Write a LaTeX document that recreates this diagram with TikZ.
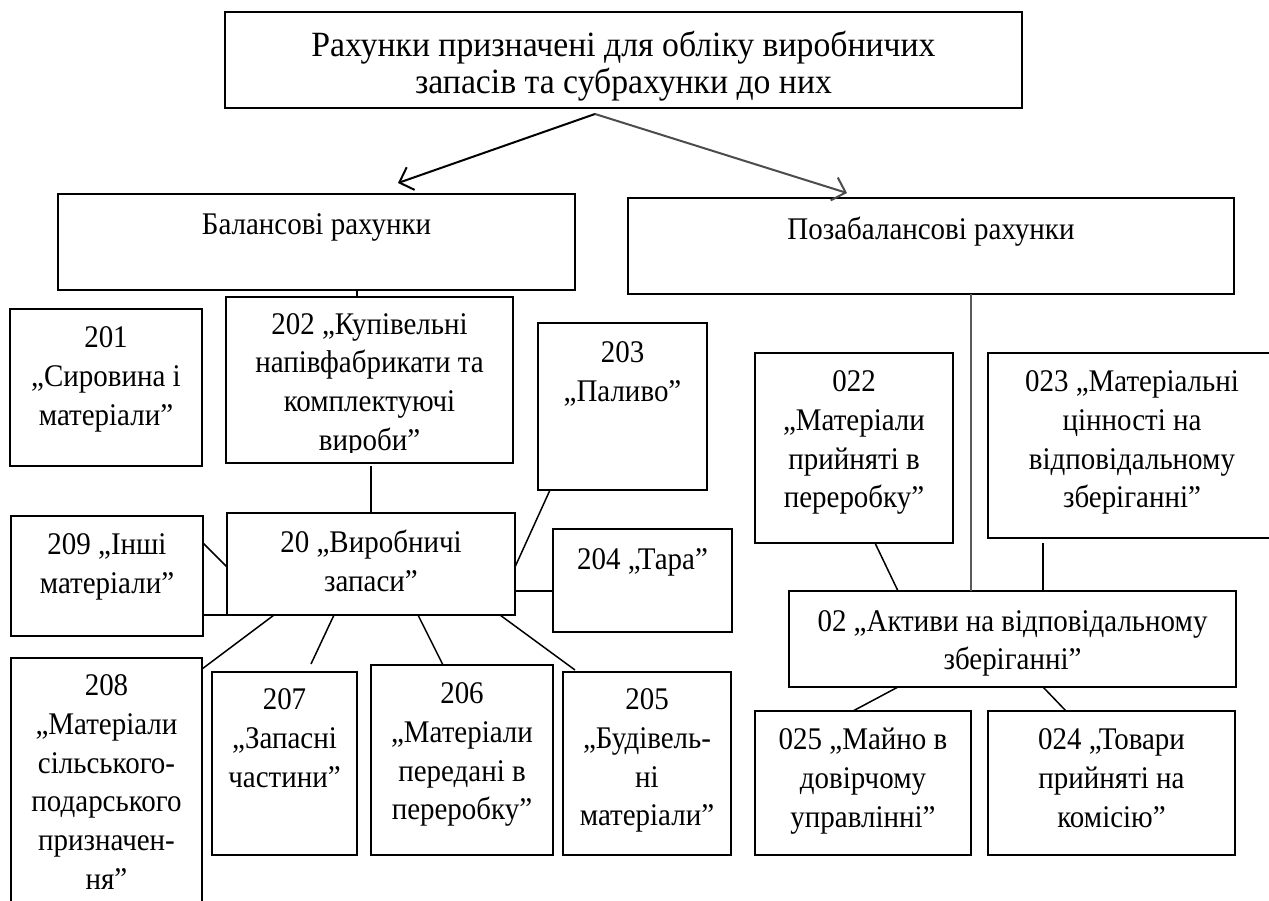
\documentclass[tikz,border=0pt]{standalone}
\usepackage{fontspec}
\setmainfont{Liberation Serif}[FakeStretch=0.92]
\newfontfamily\headfont{Liberation Serif}[FakeStretch=0.95]
\usetikzlibrary{arrows.meta}

% \bx{name}{x1}{y1}{x2}{y2}{first baseline}{text}: framed account box
\newcommand\bx[7]{%
  \node[box, minimum width={#4-#2}, minimum height={#5-#3}] (#1) at ({(#2+#4)/2},{(#3+#5)/2}) {};
  \node[txt, anchor=north] (#1t) at ({(#2+#4)/2},{#6-27.09}) {\strut #7};
}

\begin{document}
\begin{tikzpicture}[x=1pt,y=-1pt,
  box/.style={draw, rectangle, line width=1.7pt, inner sep=0pt, outer sep=0pt},
  txt/.style={inner sep=0pt, align=center, font=\fontsize{31.5}{38.7}\selectfont},
  toptxt/.style={inner sep=0pt, align=center, font=\headfont\fontsize{35.5}{35}\selectfont},
  link/.style={line width=1.5pt},
  grey link/.style={line width=1.5pt, draw=black!65},
  arr/.style={line width=2pt, -{Straight Barb[length=12pt,width=24pt,line width=2pt]}},
]
\useasboundingbox (0,0) rectangle (1269,901);

% heading
\node[box, minimum width=797, minimum height=96] (top) at (623.5,60) {};
\node[toptxt, anchor=north] (topt) at (623.5,{55-24.5}) {\strut Рахунки призначені для обліку виробничих\\запасів та субрахунки до них};

% two groups of accounts
\bx{bal}{58}{194}{575}{290}{234}{Балансові рахунки}
\bx{poz}{628}{198}{1234}{294}{239.5}{Позабалансові рахунки}

% balance sub-accounts
\bx{b201}{10}{309}{202}{466}{347.5}{201\\„Сировина і\\матеріали”}
\node[box, minimum width=287, minimum height=166] (b202) at (369.5,380) {};
\begin{scope}
  \clip (226,297) rectangle (513,452);
  \node[txt, anchor=north] (b202t) at (369.5,{334-27.09}) {\strut 202 „Купівельні\\напівфабрикати та\\комплектуючі\\вироби”};
\end{scope}
\bx{b203}{538}{323}{707}{490}{362.5}{203\\„Паливо”}
\bx{b209}{11}{516}{203}{636}{554.5}{209 „Інші\\матеріали”}
\bx{b20}{227}{513}{515}{615}{552.5}{20 „Виробничі\\запаси”}
\bx{b204}{553}{529}{732}{632}{569.5}{204 „Тара”}
\bx{b208}{11}{658}{202}{935}{695.5}{208\\„Матеріали\\сільського-\\подарського\\призначен-\\ня”}
\bx{b207}{212}{672}{357}{855}{709.5}{207\\„Запасні\\частини”}
\bx{b206}{371}{665}{553}{855}{703.5}{206\\„Матеріали\\передані в\\переробку”}
\bx{b205}{563}{672}{731}{855}{709.5}{205\\„Будівель-\\ні\\матеріали”}

% off-balance sub-accounts
\bx{b022}{755}{353}{953}{543}{391.5}{022\\„Матеріали\\прийняті в\\переробку”}
\bx{b023}{988}{353}{1276}{538}{391.5}{023 „Матеріальні\\цінності на\\відповідальному\\зберіганні”}
\bx{b02}{789}{591}{1236}{687}{631}{02 „Активи на відповідальному\\зберіганні”}
\bx{b025}{755}{711}{971}{855}{749.5}{025 „Майно в\\довірчому\\управлінні”}
\bx{b024}{988}{711}{1235}{855}{749.5}{024 „Товари\\прийняті на\\комісію”}

% split of the heading into two groups
\coordinate (fork) at (595,114);
\coordinate (balTip) at (398,183);
\coordinate (pozTip) at (847,193);
\draw[arr] (fork) -- (balTip);
\draw[arr, draw=black!70] (fork) -- (pozTip);

% links inside the balance group
\draw[link] ([xshift=-12.5]b202.north) -- ([xshift=-12.5]b202.north |- bal.south);
\draw[link] (b20.north) -- ([yshift=-3]b20.north |- b202.south);
\draw[link] ([xshift=12]b203.south west) -- ([yshift=-3]b20.east);
\draw[link] ([yshift=-27]b20.east) -- ([yshift=-27]b20.east -| b204.west);
\draw[link] ([yshift=-27]b209.north east) -- ([yshift=-54]b20.north west);
\draw[link] (b20.south west) -- (b20.south west -| b209.east);
\draw[link] ([xshift=47]b20.south west) -- ([yshift=-11]b208.north east);
\draw[link] ([xshift=107]b20.south west) -- ([xshift=99,yshift=8]b207.north west);
\draw[link] ([xshift=191]b20.south west) -- ([xshift=72]b206.north west);
\draw[link] ([xshift=-15]b20.south east) -- ([xshift=12,yshift=2]b205.north west);

% links inside the off-balance group
\draw[grey link] ([xshift=-41.5]b02.north) -- ([xshift=-41.5]b02.north |- poz.south);
\draw[link] ([xshift=21]b022.south) -- ([xshift=109]b02.north west);
\draw[link] ([xshift=30.5]b02.north) -- ([xshift=30.5,yshift=-5]b02.north |- b023.south);
\draw[link] ([xshift=109]b02.south west) -- ([xshift=-10]b025.north);
\draw[link] ([xshift=30.5]b02.south) -- ([xshift=78]b024.north west);
\end{tikzpicture}
\end{document}
